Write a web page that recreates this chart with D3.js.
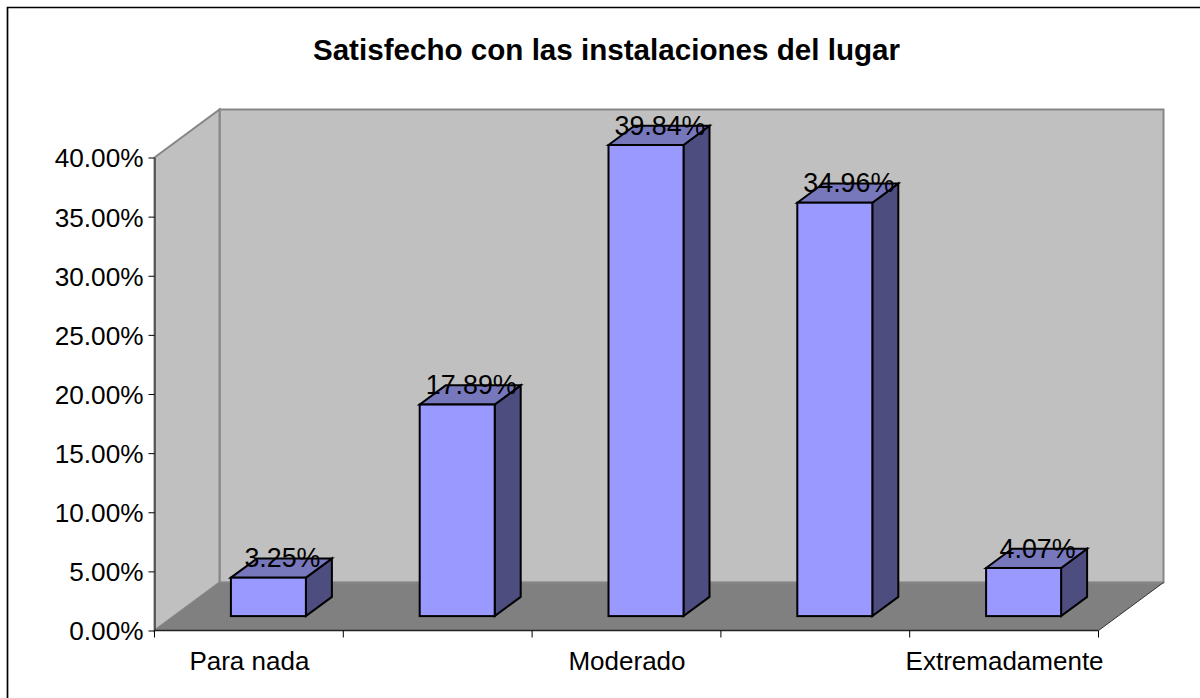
<!DOCTYPE html>
<html><head><meta charset="utf-8">
<script src="https://cdn.jsdelivr.net/npm/d3@7"></script>
<style>html,body{margin:0;padding:0;background:#fff}svg{display:block}text{font-family:"Liberation Sans",Arial,sans-serif;fill:#000}</style>
</head><body><svg id="c" width="1200" height="698"></svg>
<script>
const title = "Satisfecho con las instalaciones del lugar";
const categories = ["Para nada", "Poco", "Moderado", "Mucho", "Extremadamente"];
const shownLabels = ["Para nada", "Moderado", "Extremadamente"];
const values = [3.25, 17.89, 39.84, 34.96, 4.07];
const yTicks = [0, 5, 10, 15, 20, 25, 30, 35, 40];

const svg = d3.select("#c");
const L = 154.5, R = 1098.5, B = 630.5, T = 157.5, dx = 65, dy = -48;
const x = d3.scaleBand().domain(categories).range([L, R]);
const y = d3.scaleLinear().domain([0, 40]).range([B, T]);
const fmt = v => v.toFixed(2) + "%";
const line = d3.line();
const poly = (pts, fill, stroke, sw) => svg.append("path").attr("d", line(pts) + "Z")
  .attr("fill", fill).attr("stroke", stroke || "none").attr("stroke-width", sw || 0).attr("stroke-linejoin", "miter");

// chart frame: only the top and left edges fall inside the picture
svg.append("path").attr("d", line([[7.5, 698], [7.5, 7.5], [1200, 7.5]]))
  .attr("fill", "none").attr("stroke", "#000").attr("stroke-width", 1.7);

// walls and floor
poly([[L + dx, T + dy], [R + dx, T + dy], [R + dx, B + dy], [L + dx, B + dy]], "#c0c0c0", "#868686", 2);
poly([[L, T], [L + dx, T + dy], [L + dx, B + dy], [L, B]], "#c0c0c0", "#868686", 2);
poly([[L, B], [L + dx, B + dy], [R + dx, B + dy], [R, B]], "#808080", "none");
svg.append("path").attr("d", line([[L + dx, B + dy], [R + dx, B + dy]])).attr("stroke", "#868686").attr("stroke-width", 1.5).attr("fill", "none");
svg.append("path").attr("d", line([[R, B], [R + dx, B + dy]])).attr("stroke", "#333").attr("stroke-width", 1).attr("fill", "none");

// axes
const yAxis = d3.axisLeft(y).tickValues(yTicks).tickSize(6).tickSizeOuter(0).tickPadding(5).tickFormat(fmt);
const gy = svg.append("g").attr("transform", `translate(${L},0)`).call(yAxis);
gy.selectAll("text").attr("font-size", 26.2).attr("dy", "0.36em").style("font-family", '"Liberation Sans"');
gy.selectAll("line").attr("stroke", "#000").attr("stroke-width", 1);
gy.selectAll("path").attr("stroke", "#444").attr("stroke-width", 1.5);

const xEdges = categories.map(c => x(c)).concat(R);
const gx = svg.append("g").attr("transform", `translate(0,${B})`);
gx.append("path").attr("d", line([[L, 0], [R, 0]])).attr("stroke", "#222").attr("stroke-width", 1.5);
gx.selectAll("line").data(xEdges).join("line").attr("x1", d => d).attr("x2", d => d).attr("y1", 0).attr("y2", 7)
  .attr("stroke", "#000").attr("stroke-width", 1);
gx.selectAll("text").data(shownLabels).join("text")
  .attr("x", d => x(d) + x.bandwidth() / 2 + 0.5).attr("y", 39).attr("text-anchor", "middle")
  .attr("font-size", 26).text(d => d);

// bars: they stand between 30% and 70% of the floor depth
const barW = 75, f0 = 0.3, f1 = 0.7;
const bw = (f1 - f0) * dx, bh = (f1 - f0) * dy;
categories.forEach((c, i) => {
  const v = values[i];
  const x0 = x(c) + (x.bandwidth() - barW) / 2 + f0 * dx;
  const x1 = x0 + barW;
  const yb = B + f0 * dy, yt = y(v) + f0 * dy;
  poly([[x1, yt], [x1 + bw, yt + bh], [x1 + bw, yb + bh], [x1, yb]], "#4d4d80", "#000", 2);
  poly([[x0, yt], [x0 + bw, yt + bh], [x1 + bw, yt + bh], [x1, yt]], "#7777bb", "#000", 2);
  svg.append("rect").attr("x", x0).attr("y", yt).attr("width", barW).attr("height", yb - yt)
    .attr("fill", "#9999ff").attr("stroke", "#000").attr("stroke-width", 2);
});
categories.forEach((c, i) => {
  const x0 = x(c) + (x.bandwidth() - barW) / 2 + f0 * dx;
  svg.append("text").attr("x", x0 + barW / 2 + bw / 2 + 1).attr("y", y(values[i]) + f0 * dy + bh + 9)
    .attr("text-anchor", "middle").attr("font-size", 26.8).text(fmt(values[i]));
});

svg.append("text").attr("x", 606.5).attr("y", 59.5).attr("text-anchor", "middle")
  .attr("font-size", 29.6).attr("font-weight", "bold").text(title);
</script></body></html>
